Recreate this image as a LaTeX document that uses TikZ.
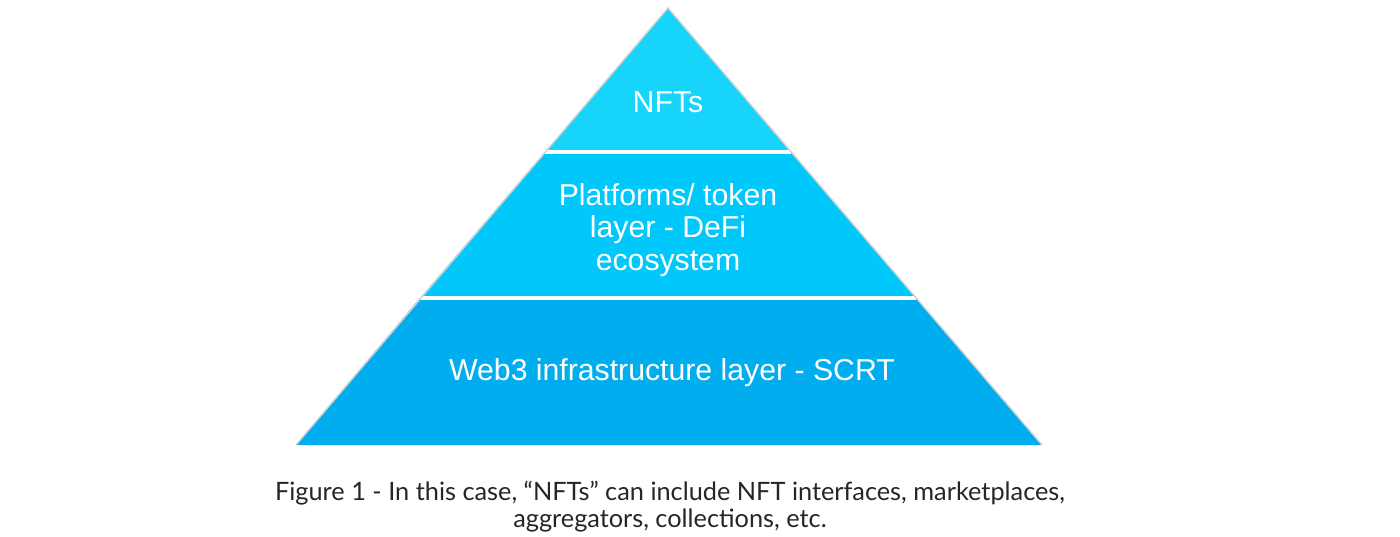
\documentclass[tikz,border=0pt]{standalone}
\usepackage{fontspec}
\setmainfont{Liberation Sans}
\newfontfamily\captionfont{Lato}
\definecolor{topblue}{HTML}{17D4FB}
\definecolor{midblue}{HTML}{00C8FA}
\definecolor{lowblue}{HTML}{00AEEF}
\begin{document}
\begin{tikzpicture}
\useasboundingbox (0,0) rectangle (14,5.36);
\coordinate (apex) at (6.68,5.28);
\coordinate (l1) at (5.45,3.84);
\coordinate (r1) at (7.91,3.84);
\coordinate (l2) at (4.20,2.38);
\coordinate (r2) at (9.16,2.38);
\coordinate (l3) at (2.96,0.91);
\coordinate (r3) at (10.42,0.91);
% layers
\fill[topblue] (apex)--(r1)--(l1)--cycle;
\fill[midblue] (l1)--(r1)--(r2)--(l2)--cycle;
\fill[lowblue] (l2)--(r2)--(r3)--(l3)--cycle;
\draw[white, line width = 1.2pt] (l1)--(r1);
\draw[white, line width = 1.2pt] (l2)--(r2);
\draw[black!18, line width = 0.4pt] (l3)--(apex)--(r3);
% labels
\node[white, font=\fontsize{8.6}{9.3}\selectfont] (nfts) at (6.68,4.34) {NFTs};
\node[white, align=center, font=\fontsize{8.6}{9.3}\selectfont] (defi) at (6.68,3.06) {Platforms/ token\\layer - DeFi\\ecosystem};
\node[white, font=\fontsize{8.6}{9.3}\selectfont] (scrt) at (6.72,1.63) {Web3 infrastructure layer - SCRT};
\node[black!85, align=center, font=\captionfont\fontsize{7.2}{7.7}\selectfont] (caption) at (6.70,0.29) {Figure 1 - In this case, “NFTs” can include NFT interfaces, marketplaces,\\aggregators, collections, etc.};
\end{tikzpicture}
\end{document}
